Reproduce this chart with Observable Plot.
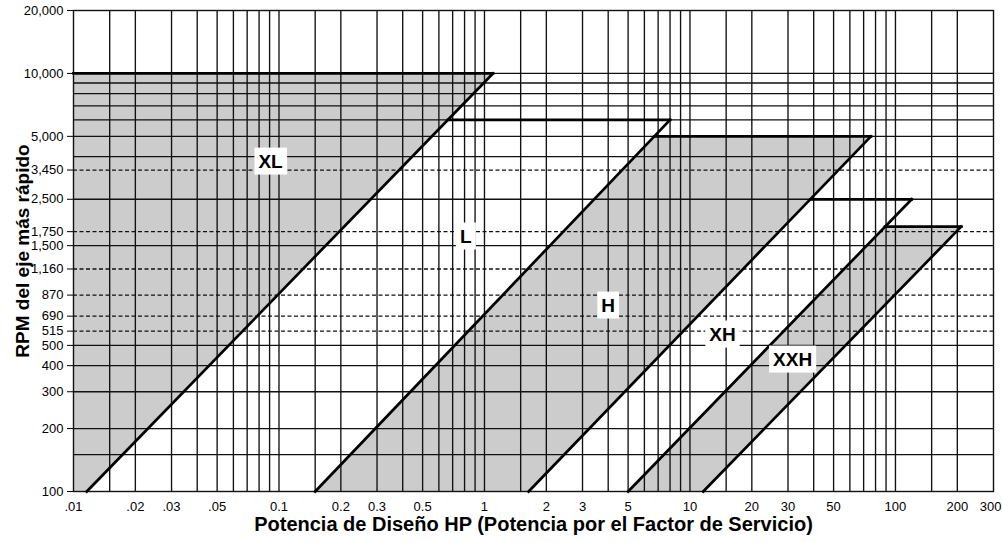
<!DOCTYPE html>
<html><head><meta charset="utf-8">
<script src="https://cdn.jsdelivr.net/npm/d3@7"></script>
<script src="https://cdn.jsdelivr.net/npm/@observablehq/plot@0.6"></script>
<style>body{margin:0;background:#fff} svg{display:block}</style>
</head><body><div id="chart"></div>
<script>
// Axis ticks and labels
const xTicks = [0.01,0.02,0.03,0.05,0.1,0.2,0.3,0.5,1,2,3,5,10,20,30,50,100,200];
const xTickLabels = [".01",".02",".03",".05","0.1","0.2","0.3","0.5","1","2","3","5","10","20","30","50","100","200"];
const xEndTick = [300];
const xEndTickLabel = ["300"];
const yTicks = [100,200,300,400,500,585,690,870,1160,1500,1750,2500,3450,5000,10000,20000];
const yTickLabels = ["100","200","300","400","500","515","690","870","1,160","1,500","1,750","2,500","3,450","5,000","10,000","20,000"];

// Grid lines
const xGrid = [0.015,0.02,0.03,0.04,0.05,0.06,0.07,0.08,0.09,0.1,0.15,0.2,0.3,0.4,0.5,0.6,0.7,0.8,0.9,1,1.5,2,3,4,5,6,7,8,9,10,15,20,30,40,50,60,70,80,90,100,150,200];
const yGridSolid = [150,200,300,400,500,1500,2500,4000,5000,6000,7000,8000,9000,10000];
const yGridDashed = [585,690,870,1160,1750,3450];

// Shaded regions (HP, RPM vertices)
const regionXL  = [[0.01,100],[0.0116,100],[1.1,10000],[0.01,10000]];
const regionH   = [[0.15,100],[1.64,100],[76,5000],[6.7,5000]];
const regionXXH = [[5,100],[11.6,100],[209,1850],[89,1850]];

// Boundary segments [HP1, RPM1, HP2, RPM2]
const boundaries = [
  [0.01,10000, 1.1,10000],
  [0.0116,100, 1.1,10000],
  [0.664,6000, 8.0,6000],
  [0.15,100, 8.0,6000],
  [6.7,5000, 76,5000],
  [1.64,100, 76,5000],
  [38.5,2500, 120,2500],
  [5,100, 120,2500],
  [89,1850, 209,1850],
  [11.6,100, 209,1850]
];

// Region labels
const labelNames = ["XL","L","H","XH","XXH"];
const labelHP = [0.091,0.81,4.0,14.4,31.6];
const labelRPM = [3790,1660,776,564,428];
const labels = labelNames.map((t,i)=>({t, x: labelHP[i], y: labelRPM[i]}));

const xTitle = "Potencia de Diseño HP (Potencia por el Factor de Servicio)";
const yTitle = "RPM del eje más rápido";

const gray = "#cccccc";
const gridColor = "#111111";

const poly = (pts) => Plot.line(pts, {x: d=>d[0], y: d=>d[1], fill: gray, stroke: "none"});

const chart = Plot.plot({
  width: 1002, height: 542,
  marginLeft: 73, marginRight: 9, marginTop: 10, marginBottom: 51,
  style: {fontFamily: "'Liberation Sans', Arial, sans-serif", fontSize: "13px", color: "#000", background: "#fff"},
  x: {type: "log", domain: [0.01, 300], axis: null},
  y: {type: "log", domain: [100, 20000]},
  marks: [
    poly(regionXL), poly(regionH), poly(regionXXH),
    Plot.ruleX(xGrid, {stroke: gridColor, strokeWidth: 1.35}),
    Plot.ruleY(yGridSolid, {stroke: gridColor, strokeWidth: 1.35}),
    Plot.ruleY(yGridDashed, {stroke: gridColor, strokeWidth: 1.3, strokeDasharray: "4,2.5"}),
    Plot.frame({stroke: "#111", strokeWidth: 1.4}),
    Plot.link(boundaries, {x1: d=>d[0], y1: d=>d[1], x2: d=>d[2], y2: d=>d[3], stroke: "#000", strokeWidth: 2.7, strokeLinecap: "square"}),
    Plot.text(labels, {x: "x", y: "y", text: "t", fontSize: 19, fontWeight: "bold", fill: "#000", ariaLabel: () => "region-label"}),
    // y tick marks (labels drawn separately)
    Plot.axisY({ticks: yTicks, tickFormat: () => "", tickSize: 6, tickPadding: 0, label: null}),
    // tick labels
    Plot.text(xTicks, {x: d => d, text: (d, i) => xTickLabels[i], frameAnchor: "bottom", lineAnchor: "top", dy: 10, fontSize: 13}),
    Plot.text(xEndTick, {x: d => d, text: (d, i) => xEndTickLabel[i], frameAnchor: "bottom", lineAnchor: "top", textAnchor: "end", dy: 10, dx: 8, fontSize: 13}),
    Plot.text(yTicks, {y: d => d, text: (d, i) => yTickLabels[i], frameAnchor: "left", textAnchor: "end", dx: -10, fontSize: 13}),
    // axis titles
    Plot.text([xTitle], {text: d=>d, frameAnchor: "bottom", dy: 39, fontSize: 20, fontWeight: "bold"}),
    Plot.text([yTitle], {text: d=>d, frameAnchor: "left", textAnchor: "middle", dx: -51, rotate: -90, fontSize: 19, fontWeight: "bold"})
  ]
});
document.getElementById("chart").append(chart);

// White knockout boxes behind region labels
d3.select(chart).selectAll("text").filter(function(){
  return this.getAttribute("aria-label") === "region-label";
}).each(function(){
  const b = this.getBBox();
  const padX = 4, padY = 3;
  const r = document.createElementNS("http://www.w3.org/2000/svg", "rect");
  const tr = this.getAttribute("transform");
  if (tr) r.setAttribute("transform", tr);
  r.setAttribute("x", b.x - padX); r.setAttribute("y", b.y - padY);
  r.setAttribute("width", b.width + 2*padX); r.setAttribute("height", b.height + 2*padY);
  r.setAttribute("fill", "#fff");
  r.setAttribute("stroke", "none");
  this.parentNode.insertBefore(r, this);
});
</script>
</body></html>
